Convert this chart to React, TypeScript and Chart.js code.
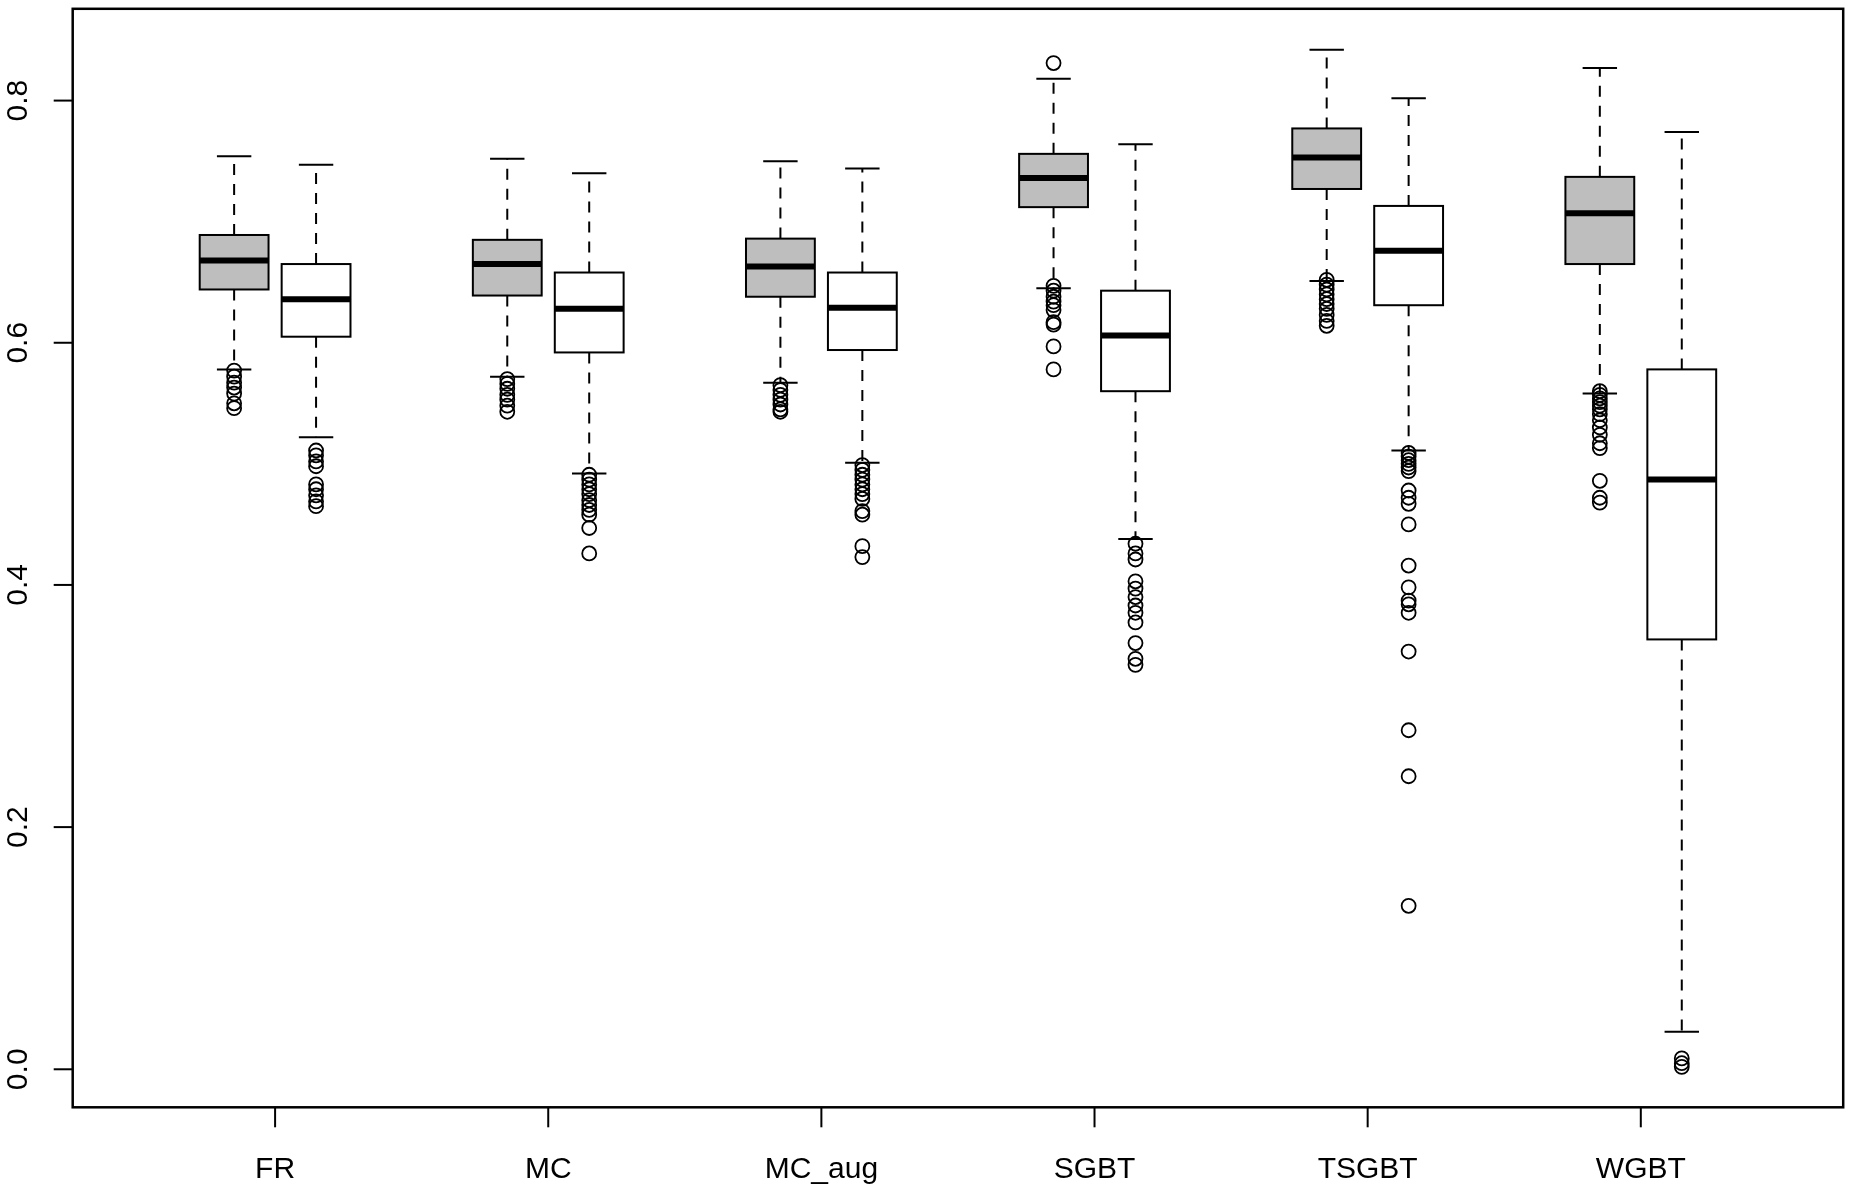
import React, { useEffect, useRef } from "react";
import { Chart, registerables } from "chart.js";

Chart.register(...registerables);

const categories = ["FR", "MC", "MC_aug", "SGBT", "TSGBT", "WGBT"];
const yTicks = [0, 0.2, 0.4, 0.6, 0.8];

// grey boxes (left of each pair)
const grayLow = [0.578, 0.572, 0.567, 0.645, 0.651, 0.558];
const grayQ1 = [0.644, 0.639, 0.638, 0.712, 0.727, 0.665];
const grayMed = [0.668, 0.665, 0.663, 0.736, 0.753, 0.707];
const grayQ3 = [0.689, 0.685, 0.686, 0.756, 0.777, 0.737];
const grayHigh = [0.754, 0.752, 0.75, 0.818, 0.842, 0.827];
const grayOut = [
  [0.577, 0.572, 0.567, 0.563, 0.558, 0.55, 0.546],
  [0.57, 0.566, 0.562, 0.557, 0.553, 0.548, 0.543],
  [0.565, 0.561, 0.557, 0.553, 0.549, 0.545, 0.543],
  [0.831, 0.647, 0.643, 0.638, 0.634, 0.631, 0.627, 0.617, 0.615, 0.597, 0.578],
  [0.652, 0.648, 0.644, 0.64, 0.636, 0.632, 0.628, 0.623, 0.618, 0.614],
  [0.56, 0.557, 0.554, 0.551, 0.548, 0.545, 0.541, 0.536, 0.53, 0.524, 0.517, 0.513, 0.486, 0.472, 0.468],
];

// white boxes (right of each pair)
const whiteLow = [0.522, 0.492, 0.501, 0.438, 0.511, 0.031];
const whiteQ1 = [0.605, 0.592, 0.594, 0.56, 0.631, 0.355];
const whiteMed = [0.636, 0.628, 0.629, 0.606, 0.676, 0.487];
const whiteQ3 = [0.665, 0.658, 0.658, 0.643, 0.713, 0.578];
const whiteHigh = [0.747, 0.74, 0.744, 0.764, 0.802, 0.774];
const whiteOut = [
  [0.511, 0.507, 0.502, 0.498, 0.483, 0.479, 0.474, 0.469, 0.465],
  [0.491, 0.487, 0.483, 0.479, 0.475, 0.47, 0.466, 0.462, 0.458, 0.447, 0.426],
  [0.499, 0.495, 0.491, 0.487, 0.483, 0.479, 0.475, 0.471, 0.461, 0.458, 0.432, 0.423],
  [0.434, 0.426, 0.421, 0.403, 0.397, 0.39, 0.383, 0.377, 0.369, 0.352, 0.339, 0.334],
  [0.509, 0.506, 0.503, 0.5, 0.497, 0.494, 0.478, 0.472, 0.467, 0.45, 0.416, 0.398, 0.387, 0.384, 0.377, 0.345, 0.28, 0.242, 0.135],
  [0.009, 0.005, 0.002],
];

// style / layout
const W = 1852;
const H = 1186;
const OFFSET = 0.15; // box offset from category centre (x units)
const BOX_W = 0.252; // box width (x units)
const FONT = '30px "Liberation Sans", Arial, sans-serif';

type Series = {
  low: number[];
  q1: number[];
  med: number[];
  q3: number[];
  high: number[];
  fill: string;
  dx: number;
};

const series: Series[] = [
  { low: grayLow, q1: grayQ1, med: grayMed, q3: grayQ3, high: grayHigh, fill: "#bebebe", dx: -OFFSET },
  { low: whiteLow, q1: whiteQ1, med: whiteMed, q3: whiteQ3, high: whiteHigh, fill: "#ffffff", dx: OFFSET },
];

const boxPlugin = {
  id: "boxplotDraw",
  beforeDatasetsDraw(chart: any) {
    const ctx = chart.ctx;
    const xs = chart.scales.x;
    const ys = chart.scales.y;
    ctx.save();
    series.forEach((s) => {
      categories.forEach((_, i) => {
        const xc = xs.getPixelForValue(i + 1 + s.dx);
        const xl = xs.getPixelForValue(i + 1 + s.dx - BOX_W / 2);
        const xr = xs.getPixelForValue(i + 1 + s.dx + BOX_W / 2);
        const sl = xs.getPixelForValue(i + 1 + s.dx - BOX_W / 4);
        const sr = xs.getPixelForValue(i + 1 + s.dx + BOX_W / 4);
        const yLow = ys.getPixelForValue(s.low[i]);
        const yQ1 = ys.getPixelForValue(s.q1[i]);
        const yMed = ys.getPixelForValue(s.med[i]);
        const yQ3 = ys.getPixelForValue(s.q3[i]);
        const yHigh = ys.getPixelForValue(s.high[i]);
        ctx.strokeStyle = "#000";
        ctx.lineCap = "butt";
        // whiskers (dashed)
        ctx.lineWidth = 2;
        ctx.setLineDash([11, 9]);
        ctx.beginPath();
        ctx.moveTo(xc, yQ3);
        ctx.lineTo(xc, yHigh);
        ctx.moveTo(xc, yQ1);
        ctx.lineTo(xc, yLow);
        ctx.stroke();
        ctx.setLineDash([]);
        // staples
        ctx.beginPath();
        ctx.moveTo(sl, yHigh);
        ctx.lineTo(sr, yHigh);
        ctx.moveTo(sl, yLow);
        ctx.lineTo(sr, yLow);
        ctx.stroke();
        // box
        ctx.fillStyle = s.fill;
        ctx.fillRect(xl, yQ3, xr - xl, yQ1 - yQ3);
        ctx.lineWidth = 2;
        ctx.strokeRect(xl, yQ3, xr - xl, yQ1 - yQ3);
        // median
        ctx.lineWidth = 6;
        ctx.beginPath();
        ctx.moveTo(xl, yMed);
        ctx.lineTo(xr, yMed);
        ctx.stroke();
      });
    });
    ctx.restore();
  },
  afterDraw(chart: any) {
    const ctx = chart.ctx;
    const xs = chart.scales.x;
    const ys = chart.scales.y;
    const a = chart.chartArea;
    ctx.save();
    ctx.strokeStyle = "#000";
    ctx.fillStyle = "#000";
    ctx.lineWidth = 2.5;
    ctx.strokeRect(a.left, a.top, a.right - a.left, a.bottom - a.top);
    ctx.lineWidth = 2;
    ctx.font = FONT;
    // y ticks and rotated labels
    yTicks.forEach((v) => {
      const y = ys.getPixelForValue(v);
      ctx.beginPath();
      ctx.moveTo(a.left, y);
      ctx.lineTo(a.left - 19, y);
      ctx.stroke();
      ctx.save();
      ctx.translate(a.left - 46, y);
      ctx.rotate(-Math.PI / 2);
      ctx.textAlign = "center";
      ctx.textBaseline = "alphabetic";
      ctx.fillText(v.toFixed(1), 0, 0);
      ctx.restore();
    });
    // x ticks and labels
    categories.forEach((c, i) => {
      const x = xs.getPixelForValue(i + 1);
      ctx.beginPath();
      ctx.moveTo(x, a.bottom);
      ctx.lineTo(x, a.bottom + 20);
      ctx.stroke();
      ctx.textAlign = "center";
      ctx.textBaseline = "alphabetic";
      ctx.fillText(c, x, a.bottom + 71);
    });
    ctx.restore();
  },
};

export default function App() {
  const ref = useRef<HTMLCanvasElement | null>(null);
  useEffect(() => {
    document.body.style.margin = "0";
    const canvas = ref.current;
    if (!canvas) return;
    const toPoints = (out: number[][], dx: number) =>
      out.flatMap((vals, i) => vals.map((v) => ({ x: i + 1 + dx, y: v })));
    const pointStyle = {
      pointStyle: "circle" as const,
      pointRadius: 7,
      pointHoverRadius: 7,
      pointBorderWidth: 1.8,
      pointBorderColor: "#000",
      pointBackgroundColor: "rgba(0,0,0,0)",
      showLine: false,
    };
    const chart = new Chart(canvas, {
      type: "scatter",
      data: {
        datasets: [
          { label: "grey outliers", data: toPoints(grayOut, -OFFSET), ...pointStyle },
          { label: "white outliers", data: toPoints(whiteOut, OFFSET), ...pointStyle },
        ],
      },
      options: {
        animation: false,
        responsive: false,
        devicePixelRatio: 1,
        events: [],
        layout: { padding: { left: 72.7, right: 7.3, top: 6.7, bottom: 78.7 } },
        plugins: { legend: { display: false }, tooltip: { enabled: false } },
        scales: {
          x: { type: "linear", min: 0.259, max: 6.741, display: false },
          y: { type: "linear", min: -0.0314, max: 0.8758, display: false },
        },
      },
      plugins: [boxPlugin],
    });
    return () => chart.destroy();
  }, []);
  return (
    <div style={{ position: "absolute", left: 0, top: 0, width: W, height: H, background: "#fff" }}>
      <canvas ref={ref} width={W} height={H} style={{ display: "block", width: W, height: H }} />
    </div>
  );
}
